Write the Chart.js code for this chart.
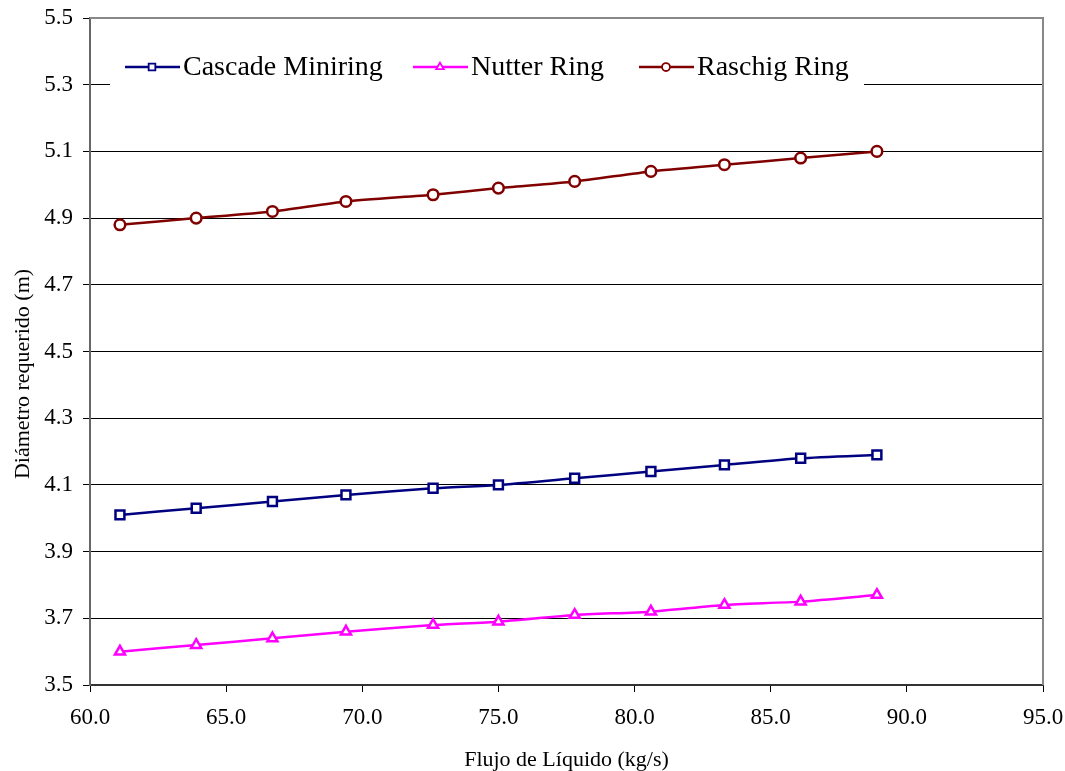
<!DOCTYPE html>
<html>
<head>
<meta charset="utf-8">
<script src="https://cdn.jsdelivr.net/npm/chart.js@4/dist/chart.umd.min.js"></script>
<style>
  html, body { margin: 0; padding: 0; background: #fff; }
  #wrap { width: 1065px; height: 771px; position: relative; }
</style>
</head>
<body>
<div id="wrap"><canvas id="chart"></canvas></div>
<script>
/* ─── Data ─────────────────────────────────────────────────────────────── */

const flujo    = [61.1, 63.9, 66.7, 69.4, 72.6, 75.0, 77.8, 80.6, 83.3, 86.1, 88.9];
const cascade  = [4.01, 4.03, 4.05, 4.07, 4.09, 4.10, 4.12, 4.14, 4.16, 4.18, 4.19];
const nutter   = [3.60, 3.62, 3.64, 3.66, 3.68, 3.69, 3.71, 3.72, 3.74, 3.75, 3.77];
const raschig  = [4.88, 4.90, 4.92, 4.95, 4.97, 4.99, 5.01, 5.04, 5.06, 5.08, 5.10];
const seriesNames = ['Cascade Miniring', 'Nutter Ring', 'Raschig Ring'];

const xTicks = [60, 65, 70, 75, 80, 85, 90, 95];
const yTicks = [3.5, 3.7, 3.9, 4.1, 4.3, 4.5, 4.7, 4.9, 5.1, 5.3, 5.5];

const FONT = '"Liberation Serif", "Times New Roman", serif';

const toPoints = ys => ys.map((y, i) => ({ x: flujo[i], y }));

function series(label, ys, color, style, radius) {
  return {
    label,
    data: toPoints(ys),
    borderColor: color,
    backgroundColor: '#fff',
    pointBorderColor: color,
    pointBackgroundColor: '#fff',
    pointStyle: style,
    pointRadius: radius,
    pointBorderWidth: 2.5,
    borderWidth: 2.5,
    tension: 0.2,
  };
}

/* ─── In-plot legend with white box ───────────────────────────────────── */

const legendBox = {
  id: 'legendBox',
  afterDatasetsDraw(chart) {
    const ctx = chart.ctx;
    ctx.save();
    ctx.fillStyle = '#fff';
    ctx.fillRect(110, 49, 754, 38);
    ctx.textBaseline = 'middle';
    const slots = [125, 413, 639];
    const y = 67;
    chart.data.datasets.forEach((ds, i) => {
      const x0 = slots[i];
      ctx.strokeStyle = ds.borderColor;
      ctx.lineWidth = 2.5;
      ctx.beginPath();
      ctx.moveTo(x0, y);
      ctx.lineTo(x0 + 55, y);
      ctx.stroke();
      ctx.fillStyle = '#fff';
      ctx.strokeStyle = ds.borderColor;
      ctx.lineWidth = 1.8;
      Chart.helpers.drawPoint(ctx, {
        pointStyle: ds.pointStyle,
        radius: ds.pointRadius * 0.75,
        borderWidth: 1.8,
      }, x0 + 27, y);
      ctx.fillStyle = '#000';
      ctx.font = '28px ' + FONT;
      ctx.fillText(ds.label, x0 + 58, y + 1);
    });
    ctx.restore();
  },
};

/* ─── Frame + rotated y title ─────────────────────────────────────────── */

const frame = {
  id: 'frame',
  afterDraw(chart) {
    const { ctx, chartArea: a } = chart;
    ctx.save();
    ctx.strokeStyle = '#888';
    ctx.lineWidth = 2;
    ctx.beginPath();
    ctx.moveTo(a.left, a.top);
    ctx.lineTo(a.right, a.top);
    ctx.lineTo(a.right, a.bottom);
    ctx.stroke();

    ctx.translate(23, 374);
    ctx.rotate(-Math.PI / 2);
    ctx.fillStyle = '#000';
    ctx.font = '22px ' + FONT;
    ctx.textAlign = 'center';
    ctx.textBaseline = 'middle';
    ctx.fillText('Diámetro requerido (m)', 0, 0);
    ctx.restore();
  },
};

/* ─── Chart ───────────────────────────────────────────────────────────── */

new Chart(document.getElementById('chart'), {
  type: 'line',
  data: {
    datasets: [
      series(seriesNames[0], cascade, '#000080', 'rect', 6.3),
      series(seriesNames[1], nutter,  '#FF00FF', 'triangle', 5.8),
      series(seriesNames[2], raschig, '#800000', 'circle', 5.3),
    ],
  },
  options: {
    responsive: true,
    maintainAspectRatio: false,
    animation: false,
    layout: { padding: { top: 18, right: 22, left: 0, bottom: 0 } },
    plugins: {
      legend: { display: false },
      tooltip: { enabled: false },
    },
    scales: {
      x: {
        type: 'linear',
        min: 60,
        max: 95,
        afterBuildTicks: s => { s.ticks = xTicks.map(v => ({ value: v })); },
        afterFit: s => { s.height = 86; s.paddingLeft = 0; s.paddingRight = 0; },
        ticks: {
          color: '#000',
          font: { family: FONT, size: 23 },
          padding: 12,
          maxRotation: 0,
          callback: v => v.toFixed(1),
        },
        grid: {
          drawOnChartArea: false,
          drawTicks: true,
          tickLength: 7,
          color: '#000',
        },
        border: { color: '#333', width: 2 },
        title: {
          display: true,
          text: 'Flujo de Líquido (kg/s)',
          color: '#000',
          font: { family: FONT, size: 22 },
          padding: { top: 16, bottom: -2 },
        },
      },
      y: {
        type: 'linear',
        min: 3.5,
        max: 5.5,
        afterBuildTicks: s => { s.ticks = yTicks.map(v => ({ value: v })); },
        afterFit: s => { s.width = 90; s.paddingTop = 0; s.paddingBottom = 0; },
        ticks: {
          color: '#000',
          font: { family: FONT, size: 23 },
          padding: 10,
          callback: v => v.toFixed(1),
        },
        grid: {
          color: '#000',
          lineWidth: 1,
          tickLength: 7,
        },
        border: { color: '#666', width: 2 },
      },
    },
  },
  plugins: [legendBox, frame],
});
</script>
</body>
</html>
